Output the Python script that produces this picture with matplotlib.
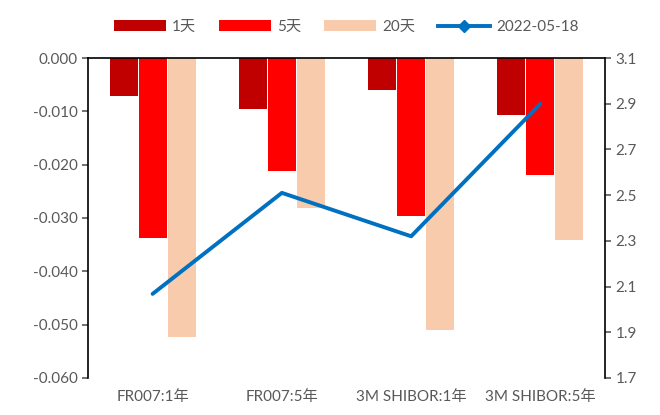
import numpy as np
import matplotlib.pyplot as plt
from matplotlib.lines import Line2D

plt.rcParams['font.family'] = ['Lato', 'Noto Sans CJK SC', 'DejaVu Sans']

# data
kategorie = ['FR007:1年', 'FR007:5年', '3M SHIBOR:1年', '3M SHIBOR:5年']
zmena_1d = [-0.0071, -0.0096, -0.0060, -0.0107]
zmena_5d = [-0.0338, -0.0212, -0.0296, -0.0219]
zmena_20d = [-0.0523, -0.0281, -0.0510, -0.0341]
hodnota = [2.068, 2.51, 2.32, 2.90]
popisky = ['1天', '5天', '20天', '2022-05-18']

seda = '#595959'
fs = 11
fig = plt.figure(figsize=(6.6, 4.15), dpi=100)
ax = fig.add_axes([0.1333, 0.0892, 0.7834, 0.771])
ax2 = ax.twinx()

x = np.arange(len(kategorie))
w = 0.217
d = 0.224
b1 = ax.bar(x - d, zmena_1d, w, color='#C00000', label=popisky[0])
b2 = ax.bar(x, zmena_5d, w, color='#FF0000', label=popisky[1])
b3 = ax.bar(x + d, zmena_20d, w, color='#F8CBAD', label=popisky[2])

ax.set_xlim(-0.5, 3.5)
ax.set_ylim(-0.06, 0)
ax.set_yticks(np.arange(-0.06, 0.001, 0.01))
ax.set_yticklabels(['%.3f' % v for v in np.arange(-0.06, 0.001, 0.01)])
ax.set_xticks(x)
ax.set_xticklabels(kategorie)
ax.tick_params(axis='x', length=0, pad=9, labelsize=fs, colors=seda)
ax.tick_params(axis='y', direction='out', length=4, labelsize=fs, colors=seda, width=1.2)
for s in ['bottom', 'right']:
    ax.spines[s].set_visible(False)
ax.spines['top'].set_linewidth(1.2)
ax.spines['left'].set_linewidth(1.2)

ln, = ax2.plot(x, hodnota, color='#0070C0', linewidth=2.8, solid_capstyle='round')
ax2.set_ylim(1.7, 3.1)
ax2.set_yticks(np.arange(1.7, 3.11, 0.2))
ax2.set_yticklabels(['%.1f' % v for v in np.arange(1.7, 3.11, 0.2)])
ax2.tick_params(axis='y', direction='out', length=4, labelsize=fs, colors=seda, width=1.2)
for s in ['bottom', 'left', 'top']:
    ax2.spines[s].set_visible(False)
ax2.spines['right'].set_linewidth(1.2)

h_line = Line2D([], [], color='#0070C0', linewidth=2.8, marker='D', markersize=6)
leg = fig.legend([b1, b2, b3, h_line], popisky, loc='center', bbox_to_anchor=(0.525, 0.935),
                 ncol=4, frameon=False, fontsize=fs, handlelength=3.4, handleheight=0.75,
                 columnspacing=1.5, handletextpad=0.4)
for t in leg.get_texts():
    t.set_color(seda)

fig.savefig('out.png', dpi=100)
